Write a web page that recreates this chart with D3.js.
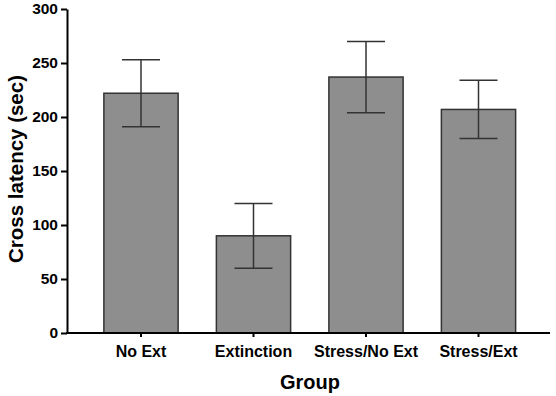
<!DOCTYPE html>
<html>
<head>
<meta charset="utf-8">
<script src="https://cdn.jsdelivr.net/npm/d3@7"></script>
<style>
  html, body { margin: 0; padding: 0; background: #fff; }
  svg { display: block; font-family: "Liberation Sans", Arial, sans-serif; }
</style>
</head>
<body>
<svg id="chart" width="556" height="396"></svg>
<script>
// data
const groups = ['No Ext', 'Extinction', 'Stress/No Ext', 'Stress/Ext'];
const means  = [222, 90, 237, 207];
const sem    = [31, 30, 33, 27];
const yTicks = [0, 50, 100, 150, 200, 250, 300];

const svg = d3.select('#chart');
const axisLeft = 67, axisRight = 550, plotTop = 9, plotBottom = 333;

const x = d3.scaleBand()
    .domain(groups)
    .range([84.75, 534.75])
    .paddingInner(0.34)
    .paddingOuter(0.17);

const y = d3.scaleLinear().domain([0, 300]).range([plotBottom, plotTop]);

// bars
svg.append('g').selectAll('rect')
    .data(groups)
    .join('rect')
    .attr('x', d => x(d))
    .attr('y', (d, i) => y(means[i]))
    .attr('width', x.bandwidth())
    .attr('height', (d, i) => y(0) - y(means[i]))
    .attr('fill', '#8e8e8e')
    .attr('stroke', '#333')
    .attr('stroke-width', 1.5);

// error bars
const capW = 38;
const eb = svg.append('g').attr('stroke', '#333').attr('stroke-width', 1.5);
groups.forEach((g, i) => {
    const cx = x(g) + x.bandwidth() / 2;
    const hi = y(means[i] + sem[i]), lo = y(means[i] - sem[i]);
    eb.append('line').attr('x1', cx).attr('x2', cx).attr('y1', hi).attr('y2', lo);
    eb.append('line').attr('x1', cx - capW / 2).attr('x2', cx + capW / 2).attr('y1', hi).attr('y2', hi);
    eb.append('line').attr('x1', cx - capW / 2).attr('x2', cx + capW / 2).attr('y1', lo).attr('y2', lo);
});

// y axis
const gy = svg.append('g')
    .attr('transform', `translate(${axisLeft},0)`)
    .call(d3.axisLeft(y).tickValues(yTicks).tickSize(6).tickPadding(3).tickSizeOuter(0));
gy.select('.domain').attr('stroke', '#000').attr('stroke-width', 2);
gy.selectAll('.tick line').attr('stroke', '#000').attr('stroke-width', 2);
gy.selectAll('.tick text')
    .attr('font-size', 15.5).attr('font-weight', 'bold').attr('fill', '#000')
    .attr('font-family', '"Liberation Sans", Arial, sans-serif');

// x axis
const gx = svg.append('g').attr('transform', `translate(0,${plotBottom})`);
gx.append('line')
    .attr('x1', axisLeft - 1).attr('x2', axisRight)
    .attr('stroke', '#000').attr('stroke-width', 2);
gx.call(d3.axisBottom(x).tickSize(4).tickPadding(9).tickSizeOuter(0));
gx.select('.domain').remove();
gx.selectAll('.tick line').attr('stroke', '#000').attr('stroke-width', 2);
gx.selectAll('.tick text')
    .attr('font-size', 16).attr('font-weight', 'bold').attr('fill', '#000')
    .attr('font-family', '"Liberation Sans", Arial, sans-serif');

// titles
svg.append('text')
    .attr('x', 310).attr('y', 389)
    .attr('text-anchor', 'middle')
    .attr('font-size', 20).attr('font-weight', 'bold')
    .text('Group');

svg.append('text')
    .attr('transform', 'translate(23,169) rotate(-90)')
    .attr('text-anchor', 'middle')
    .attr('font-size', 20.5).attr('font-weight', 'bold')
    .text('Cross latency (sec)');
</script>
</body>
</html>
